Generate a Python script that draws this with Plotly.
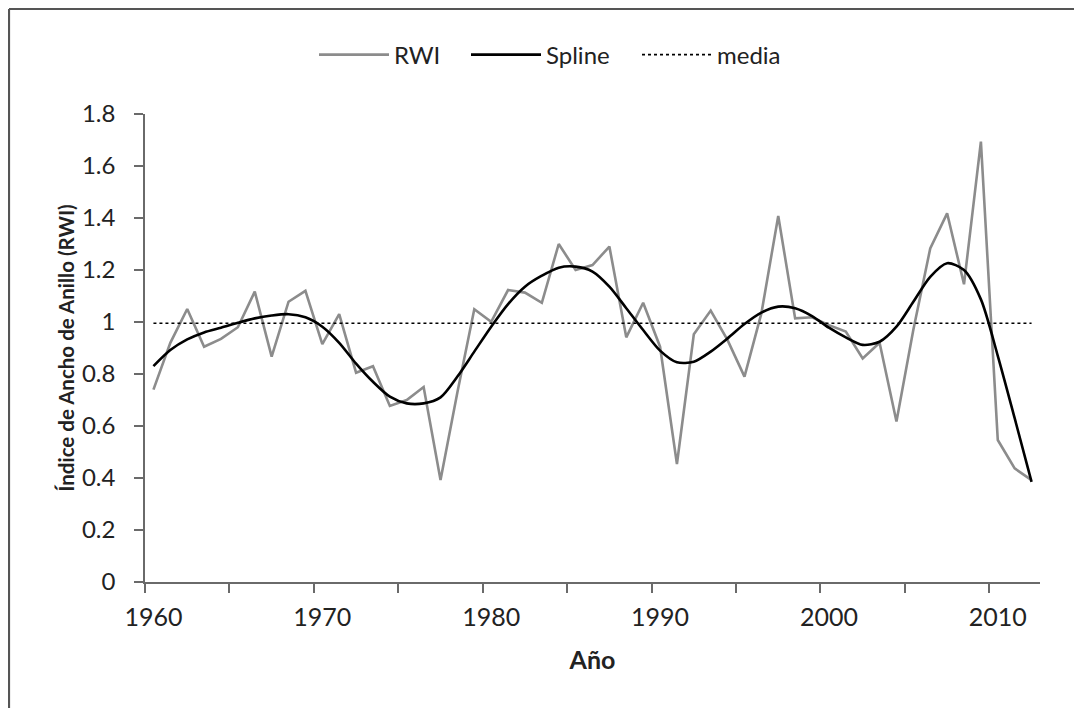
import plotly.graph_objects as go

years = list(range(1960, 2013))

rwi = [0.74, 0.92, 1.05, 0.905, 0.935, 0.98, 1.117, 0.867, 1.078, 1.12,
       0.915, 1.03, 0.805, 0.83, 0.677, 0.70, 0.75, 0.392, 0.73, 1.049,
       1.001, 1.123, 1.113, 1.074, 1.30, 1.20, 1.219, 1.29, 0.941, 1.074,
       0.905, 0.454, 0.953, 1.044, 0.93, 0.79, 1.033, 1.408, 1.014, 1.018,
       0.988, 0.963, 0.86, 0.92, 0.617, 0.97, 1.283, 1.418, 1.145, 1.694,
       0.546, 0.437, 0.392]

spline = [0.83, 0.892, 0.933, 0.96, 0.978, 0.997, 1.014, 1.025, 1.03, 1.018,
          0.982, 0.92, 0.84, 0.77, 0.713, 0.687, 0.687, 0.71, 0.79, 0.886,
          0.982, 1.069, 1.136, 1.178, 1.209, 1.213, 1.194, 1.136, 1.053, 0.969,
          0.89, 0.845, 0.847, 0.886, 0.937, 0.992, 1.036, 1.059, 1.053, 1.023,
          0.978, 0.941, 0.912, 0.924, 0.982, 1.078, 1.174, 1.226, 1.20, 1.087,
          0.87, 0.63, 0.385]

media = 0.995

x_labels = [1960, 1970, 1980, 1990, 2000, 2010]
x_minor_ticks = [1959.5, 1964.5, 1969.5, 1974.5, 1979.5, 1984.5, 1989.5,
                 1994.5, 1999.5, 2004.5, 2009.5]
y_ticks = [0, 0.2, 0.4, 0.6, 0.8, 1.0, 1.2, 1.4, 1.6, 1.8]
y_ticktext = ["0", "0.2", "0.4", "0.6", "0.8", "1", "1.2", "1.4", "1.6", "1.8"]

FONT = "Lato"
TXT = "#222222"
AX = "#6a6a6a"
W, H = 1082, 708
L, T, PW, PH = 137, 106, 895, 468   # plot area in figure pixels

fig = go.Figure()
fig.add_trace(go.Scatter(x=years, y=rwi, mode="lines", name="RWI", legend="legend",
                         line=dict(color="#8c8c8c", width=2.6)))
fig.add_trace(go.Scatter(x=years, y=spline, mode="lines", name="Spline", legend="legend2",
                         line=dict(color="#000000", width=2.6, shape="spline", smoothing=0.8)))
fig.add_trace(go.Scatter(x=[years[0], years[-1]], y=[media, media], mode="lines", name="media",
                         legend="legend3",
                         line=dict(color="#000000", width=1.6, dash="dot")))

def leg(xpx):
    return dict(orientation="h", x=xpx / W, xref="container", xanchor="left",
                y=1 - 47 / H, yref="container", yanchor="middle",
                font=dict(family=FONT, size=24, color=TXT),
                itemwidth=70, bgcolor="rgba(0,0,0,0)")

fig.update_layout(
    width=W, height=H,
    margin=dict(l=L, r=W - L - PW, t=T, b=H - T - PH, autoexpand=False),
    paper_bgcolor="white", plot_bgcolor="white",
    font=dict(family=FONT, size=25, color=TXT),
    showlegend=True,
    legend=leg(306), legend2=leg(458), legend3=leg(629),
    xaxis=dict(range=[1959.5, 2012.5], tickmode="array", tickvals=x_labels,
               ticktext=[str(v) for v in x_labels], ticks="", showgrid=False,
               zeroline=False, showline=True, linecolor=AX, linewidth=1.6,
               ticklabelstandoff=12, automargin=False,
               tickfont=dict(family=FONT, size=25, color=TXT),
               minor=dict(tickmode="array", tickvals=x_minor_ticks, ticks="outside",
                          ticklen=9, tickwidth=1.5, tickcolor=AX, showgrid=False),
               title=dict(text="<b>Año</b>", font=dict(family=FONT, size=25, color=TXT),
                          standoff=22)),
    yaxis=dict(range=[0, 1.8], tickmode="array", tickvals=y_ticks, ticktext=y_ticktext,
               ticks="outside", ticklen=9, tickwidth=1.5, tickcolor=AX,
               showgrid=False, zeroline=False, showline=True, linecolor=AX, linewidth=1.6,
               ticklabelstandoff=14, automargin=False,
               tickfont=dict(family=FONT, size=24, color=TXT),
               title=dict(text="<b>Índice de Ancho de Anillo (RWI)</b>",
                          font=dict(family=FONT, size=20.5, color=TXT), standoff=2)),
)

# chart frame (top and left edges visible in the reference)
top_y = 1 + (T - 1) / PH
left_x = (1 - L) / PW
fig.add_shape(type="line", xref="paper", yref="paper",
              x0=left_x, x1=1.2, y0=top_y, y1=top_y,
              line=dict(color="#555555", width=2.2))
fig.add_shape(type="line", xref="paper", yref="paper",
              x0=left_x, x1=left_x, y0=top_y, y1=-0.4,
              line=dict(color="#555555", width=2.2))

fig.write_html("out.html")
